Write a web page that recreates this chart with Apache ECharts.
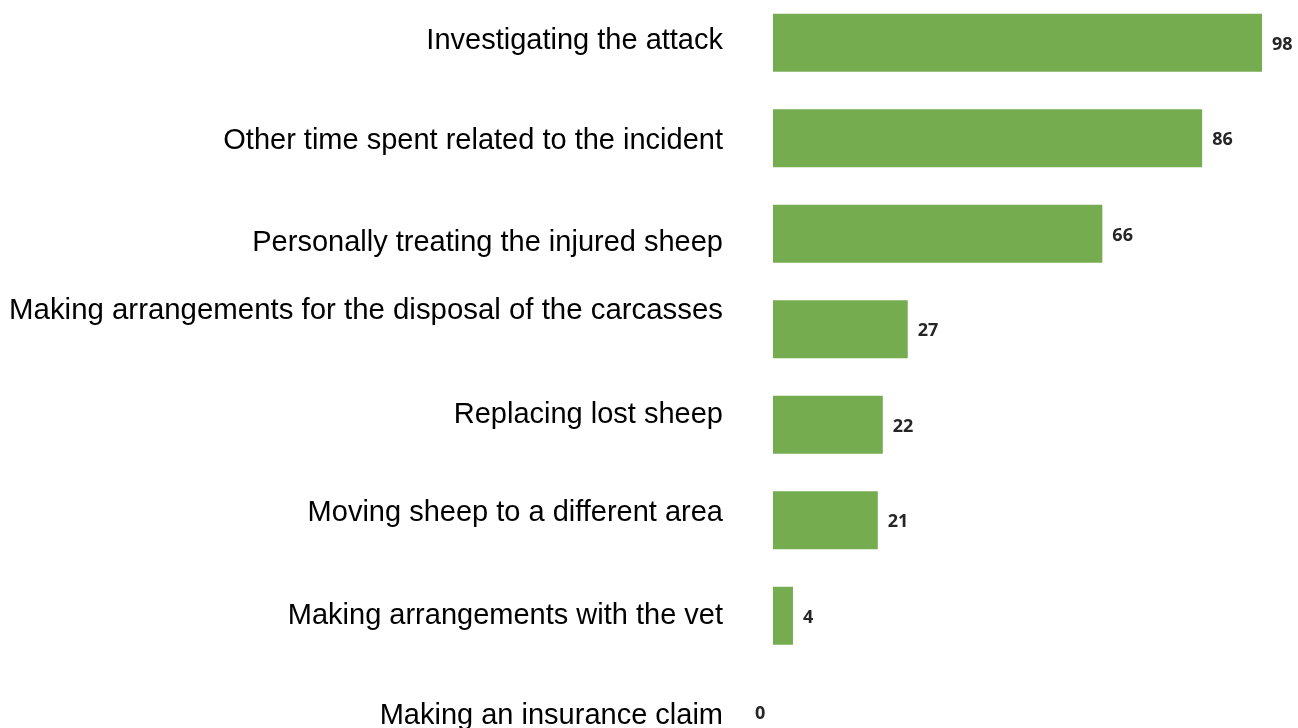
<!DOCTYPE html>
<html>
	<head>
		<meta charset="UTF-8">
		<title></title>
		<script src="https://cdn.jsdelivr.net/npm/echarts@6/dist/echarts.min.js"></script>
	</head>
	<body style="margin:0;background:#fff;overflow:hidden;">
		<div id="main" style="position:absolute;left:0;top:-5px;width:1298px;height:764px;"></div>
		<script>
			// 类别与数值
			var categories = [
				'Investigating the attack',
				'Other time spent related to the incident',
				'Personally treating the injured sheep',
				'Making arrangements for the disposal of the carcasses',
				'Replacing lost sheep',
				'Moving sheep to a different area',
				'Making arrangements with the vet',
				'Making an insurance claim'
			];
			var values = [98, 86, 66, 27, 22, 21, 4, 0];

			// 标签的上下偏移（原图标签并不完全居中）
			var labelShift = [-2, 3, 9, -18, -10, -7, 0, 5];

			var rich = {};
			labelShift.forEach(function(d, i) {
				rich['s' + i] = {
					fontFamily: 'Liberation Sans, Arial, sans-serif',
					fontSize: 29,
					color: '#000',
					padding: d > 0 ? [2 * d, 0, 0, 0] : [0, 0, -2 * d, 0]
				};
			});
			rich.s3.fontSize = 29.4;

			var barData = values.map(function(v) {
				if (v === 0) {
					return { value: v, label: { offset: [-28, 3] } };
				}
				return v;
			});

			var option = {
				animation: false,
				grid: {
					left: 773, right: 26, top: 0, bottom: 0,
					outerBoundsMode: 'none'
				},
				xAxis: {
					type: 'value',
					min: 0,
					max: 100,
					show: false
				},
				yAxis: {
					type: 'category',
					inverse: true,
					data: categories,
					axisLine: { show: false },
					axisTick: { show: false },
					axisLabel: {
						margin: 50,
						formatter: function(v, i) {
							return '{s' + i + '|' + v + '}';
						},
						rich: rich
					}
				},
				series: [{
					type: 'bar',
					data: barData,
					barWidth: 58,
					itemStyle: { color: '#75AC50' },
					label: {
						show: true,
						position: 'right',
						distance: 10,
						offset: [0, 2],
						fontFamily: 'Open Sans, DejaVu Sans, sans-serif',
						fontWeight: 'bold',
						fontSize: 18,
						color: '#262626'
					}
				}]
			};

			var myChart = echarts.init(document.getElementById('main'));
			myChart.setOption(option);
		</script>
	</body>
</html>
